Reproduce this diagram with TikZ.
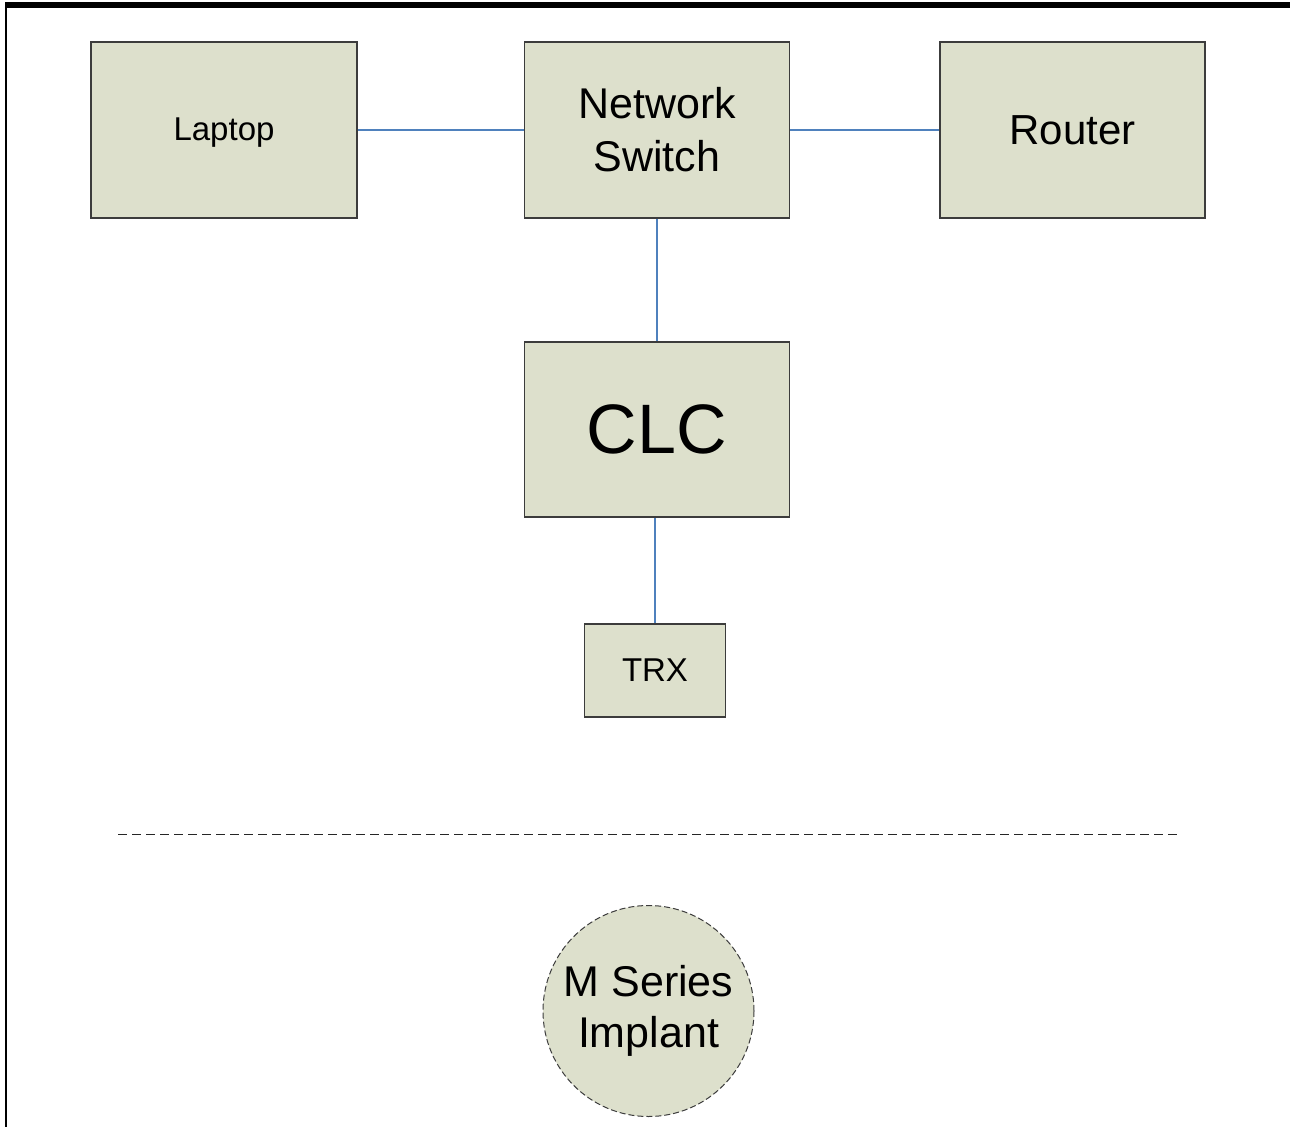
\documentclass[tikz,border=0pt]{standalone}
\usepackage{fontspec}
\setmainfont{Liberation Sans}
\definecolor{boxfill}{RGB}{221,224,204}
\definecolor{boxedge}{RGB}{60,60,60}
\definecolor{linkblue}{RGB}{79,129,189}
\tikzset{
  devbox/.style={draw=boxedge, line width=1.2pt, fill=boxfill, inner sep=0pt, align=center, text=black},
  link/.style={draw=linkblue, line width=1.3pt},
  implant/.style={circle, draw=boxedge, line width=1pt, dash pattern=on 6pt off 3pt, fill=boxfill, inner sep=0pt, align=center, minimum size=211pt},
}
\begin{document}
\begin{tikzpicture}[x=1pt,y=-1pt]
\useasboundingbox (0,0) rectangle (1290,1127);
\fill[white] (0,0) rectangle (1290,1127);
% frame bars
\fill[black] (5,2) rectangle (1290,8);
\fill[black] (4.7,2) rectangle (7.2,1127);

\node[devbox, minimum width=266pt, minimum height=176pt] (laptop) at (224,130) {};
\node[font=\fontsize{33}{40}\selectfont, inner sep=0pt] (laptoplabel) at (224,133) {Laptop};
\node[devbox, minimum width=265pt, minimum height=176pt, font=\fontsize{43}{53}\selectfont] (switch) at (657,130) {Network\\Switch};
\node[devbox, minimum width=265pt, minimum height=176pt, font=\fontsize{42}{50}\selectfont] (router) at (1072.5,130) {Router};
\node[devbox, minimum width=265pt, minimum height=175pt, font=\fontsize{70}{84}\selectfont] (clc) at (657,429.5) {CLC};
\node[devbox, minimum width=141pt, minimum height=93pt, font=\fontsize{33}{40}\selectfont] (trx) at (655,670.5) {TRX};

\draw[link] (laptop.east) -- (switch.west);
\draw[link] (switch.east) -- (router.west);
\draw[link] (switch.south) -- (clc.north);
\draw[link] (trx.north) -- (trx.north |- clc.south);

\coordinate (dl) at (118,834);
\coordinate (dr) at (1180,834);
\draw[black!85, line width=1pt, dash pattern=on 9pt off 5pt] (dl) -- (dr);

\node[implant, font=\fontsize{43}{51}\selectfont] (implant) at (648.5,1011) {M Series\\Implant};
\end{tikzpicture}
\end{document}
